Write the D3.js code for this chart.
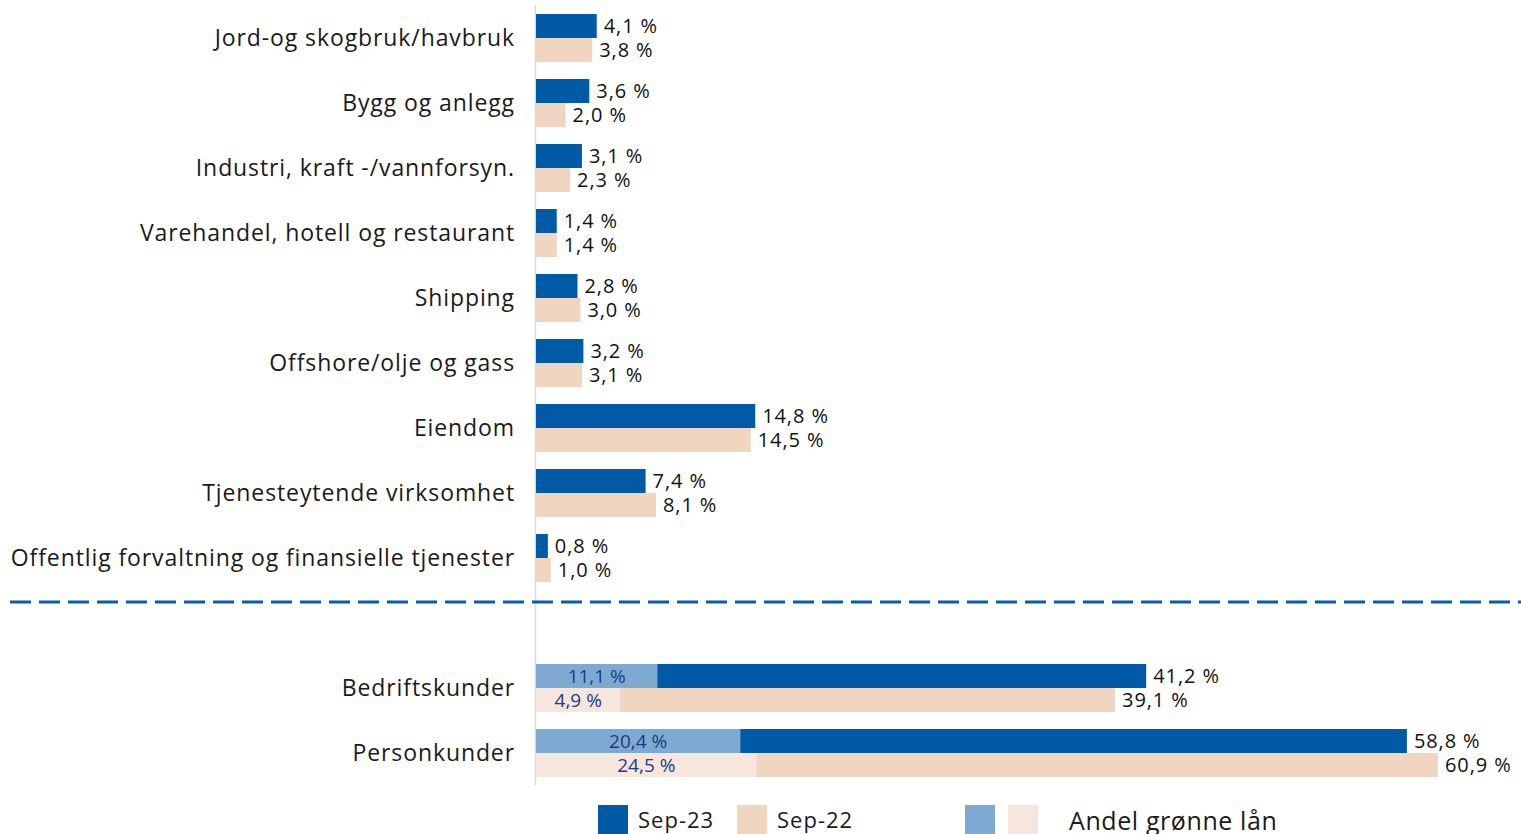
<!DOCTYPE html>
<html>
<head>
<meta charset="utf-8">
<script src="https://cdn.jsdelivr.net/npm/d3@7"></script>
<style>
  body { margin: 0; background: #fff; }
  svg { display: block; font-family: "Open Sans", sans-serif; }
</style>
</head>
<body>
<div id="chart"></div>
<script>
// Categories (blank slot separates sectors from customer totals)
var categories = [
    "Jord-og skogbruk/havbruk",
    "Bygg og anlegg",
    "Industri, kraft -/vannforsyn.",
    "Varehandel, hotell og restaurant",
    "Shipping",
    "Offshore/olje og gass",
    "Eiendom",
    "Tjenesteytende virksomhet",
    "Offentlig forvaltning og finansielle tjenester",
    "",
    "Bedriftskunder",
    "Personkunder"
];

var sep23 = [4.1, 3.6, 3.1, 1.4, 2.8, 3.2, 14.8, 7.4, 0.8, null, 41.2, 58.8];
var sep22 = [3.8, 2.0, 2.3, 1.4, 3.0, 3.1, 14.5, 8.1, 1.0, null, 39.1, 60.9];

// Green loan share: drawn segment length and printed label
var green23 = [null, null, null, null, null, null, null, null, null, null, 8.2, 13.8];
var green22 = [null, null, null, null, null, null, null, null, null, null, 5.7, 14.9];
var green23Labels = ["", "", "", "", "", "", "", "", "", "", "11,1 %", "20,4 %"];
var green22Labels = ["", "", "", "", "", "", "", "", "", "", "4,9 %", "24,5 %"];

var fmt = function(v) { return v.toFixed(1).replace(".", ",") + " %"; };

var width = 1521, height = 834;
var svg = d3.select("#chart").append("svg")
    .attr("width", width)
    .attr("height", height);

var x = d3.scaleLinear().domain([0, 60.9]).range([536, 1438]);
var y = d3.scaleBand().domain(d3.range(categories.length)).range([5.5, 785.5]).padding(0);
var barH = 24;

// Axis line
svg.append("line")
    .attr("x1", 535.5).attr("x2", 535.5)
    .attr("y1", 5).attr("y2", 785)
    .attr("stroke", "#d9d9d9").attr("stroke-width", 1.5);

var idx = d3.range(categories.length).filter(function(i) { return sep23[i] != null; });

var g = svg.selectAll(".cat").data(idx).enter().append("g")
    .attr("class", "cat")
    .attr("transform", function(i) { return "translate(0," + (y(i) + y.bandwidth() / 2) + ")"; });

// Category labels
g.append("text")
    .attr("x", 515)
    .attr("y", 0)
    .attr("dy", "0.35em")
    .attr("text-anchor", "end")
    .style("font-size", "23px")
    .style("letter-spacing", "0.9px")
    .style("fill", "#1a1a1a")
    .text(function(i) { return categories[i]; });

// Sep-23 bars
g.append("rect")
    .attr("x", x(0))
    .attr("y", -barH)
    .attr("width", function(i) { return x(sep23[i]) - x(0); })
    .attr("height", barH)
    .attr("fill", "#005aa5");

// Sep-22 bars
g.append("rect")
    .attr("x", x(0))
    .attr("y", 0)
    .attr("width", function(i) { return x(sep22[i]) - x(0); })
    .attr("height", barH)
    .attr("fill", "#f0d5c0");

// Green loan segments
var gg = g.filter(function(i) { return green23[i] != null; });
gg.append("rect")
    .attr("x", x(0)).attr("y", -barH)
    .attr("width", function(i) { return x(green23[i]) - x(0); })
    .attr("height", barH)
    .attr("fill", "#7eaad2");
gg.append("rect")
    .attr("x", x(0)).attr("y", 0)
    .attr("width", function(i) { return x(green22[i]) - x(0); })
    .attr("height", barH)
    .attr("fill", "#f6e6dd");
gg.append("text")
    .attr("x", function(i) { return (x(0) + x(green23[i])) / 2; })
    .attr("y", -barH / 2).attr("dy", "0.35em")
    .attr("text-anchor", "middle")
    .style("font-size", "19px").style("fill", "#1b3a8c")
    .text(function(i) { return green23Labels[i]; });
gg.append("text")
    .attr("x", function(i) { return (x(0) + x(green22[i])) / 2; })
    .attr("y", barH / 2).attr("dy", "0.35em")
    .attr("text-anchor", "middle")
    .style("font-size", "19px").style("fill", "#1b3a8c")
    .text(function(i) { return green22Labels[i]; });

// Value labels
g.append("text")
    .attr("x", function(i) { return x(sep23[i]) + 7; })
    .attr("y", -barH / 2).attr("dy", "0.35em")
    .style("font-size", "20px").style("letter-spacing", "0.9px").style("fill", "#111")
    .text(function(i) { return fmt(sep23[i]); });
g.append("text")
    .attr("x", function(i) { return x(sep22[i]) + 7; })
    .attr("y", barH / 2).attr("dy", "0.35em")
    .style("font-size", "20px").style("letter-spacing", "0.9px").style("fill", "#111")
    .text(function(i) { return fmt(sep22[i]); });

// Dashed separator
svg.append("line")
    .attr("x1", 10).attr("x2", width)
    .attr("y1", 602).attr("y2", 602)
    .attr("stroke", "#0b5ca7").attr("stroke-width", 3)
    .attr("stroke-dasharray", "21,8");

// Legend
var legendItems = [
    { x: 598, color: "#005aa5", label: "Sep-23" },
    { x: 737, color: "#f0d5c0", label: "Sep-22" },
    { x: 965, color: "#7eaad2", label: "" },
    { x: 1008, color: "#f6e6dd", label: "" }
];
var lg = svg.selectAll(".legend").data(legendItems).enter().append("g");
lg.append("rect")
    .attr("x", function(d) { return d.x; })
    .attr("y", 805).attr("width", 30).attr("height", 30)
    .attr("fill", function(d) { return d.color; });
lg.append("text")
    .attr("x", function(d) { return d.x + 40; })
    .attr("y", 828)
    .style("font-size", "22px").style("letter-spacing", "1px").style("fill", "#1a1a1a")
    .text(function(d) { return d.label; });
svg.append("text")
    .attr("x", 1069).attr("y", 830)
    .style("font-size", "25px").style("letter-spacing", "0.6px").style("fill", "#1a1a1a")
    .text("Andel grønne lån");
</script>
</body>
</html>
